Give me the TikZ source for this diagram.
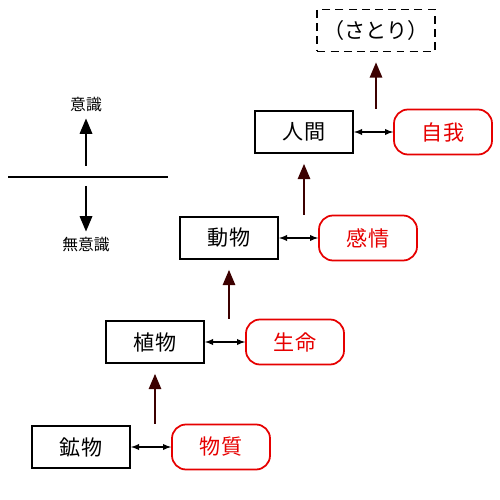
\documentclass[tikz,border=0pt]{standalone}
\usepackage{fontspec}
\newfontfamily\jpfont{Noto Sans CJK JP}
\usepackage{xcolor}
\usetikzlibrary{shapes, arrows, positioning}
\definecolor{myred}{RGB}{230,0,0}
\definecolor{mybrown}{RGB}{60,0,0}

\tikzset{
  kai/.style={draw=black, line width=1.1pt, minimum width=1.96cm, minimum height=0.84cm, font=\jpfont\fontsize{12}{14}\selectfont},
  sei/.style={draw=myred, text=myred, line width=1pt, rounded corners=0.28cm, minimum width=1.96cm, minimum height=0.9cm, font=\jpfont\fontsize{12}{14}\selectfont},
  nobori/.style={-triangle 45, mybrown, line width=1pt},
  sougo/.style={latex-latex, black, line width=0.6pt}
}

\begin{document}
\begin{tikzpicture}[scale=1]
        \useasboundingbox (0,0) rectangle (10,-10);
        % Ishiki
        \node[font=\jpfont\fontsize{9}{11}\selectfont] (ishiki) at (1.72,-2.1) {意識};
        \node[font=\jpfont\fontsize{9}{11}\selectfont] (muishiki) at (1.72,-4.9) {無意識};
        \coordinate (senL) at (0.16,-3.54);
        \coordinate (senR) at (3.36,-3.54);
        \draw[line width=0.7pt] (senL) -- (senR);
        \draw[-triangle 45, line width=1pt] (1.72,-3.32) -- (ishiki);
        \draw[-triangle 45, line width=1pt] (1.72,-3.72) -- (muishiki);
        % Boxes
        \node[kai] (kobutsu) at (1.62,-8.94) {鉱物};
        \node[sei] (busshitsu) at (4.42,-8.94) {物質};
        \node[kai] (shokubutsu) at (3.10,-6.84) {植物};
        \node[sei] (seimei) at (5.90,-6.84) {生命};
        \node[kai] (doubutsu) at (4.58,-4.76) {動物};
        \node[sei] (kanjou) at (7.36,-4.76) {感情};
        \node[kai] (ningen) at (6.08,-2.64) {人間};
        \node[sei] (jiga) at (8.86,-2.64) {自我};
        \node[kai, dash pattern=on 4.5pt off 3pt] (satori) at (7.52,-0.61) {（さとり）};
        % Sougo
        \draw[sougo] (kobutsu) -- (busshitsu);
        \draw[sougo] (shokubutsu) -- (seimei);
        \draw[sougo] (doubutsu) -- (kanjou);
        \draw[sougo] (ningen) -- (jiga);
        % Nobori
        \draw[nobori, shorten >=0.2cm] (busshitsu.north -| shokubutsu.south) -- (shokubutsu.south);
        \draw[nobori, shorten >=0.2cm] (seimei.north -| doubutsu.south) -- (doubutsu.south);
        \draw[nobori, shorten >=0.2cm] (kanjou.north -| ningen.south) -- (ningen.south);
        \draw[nobori, shorten >=0.2cm] (jiga.north -| satori.south) -- (satori.south);
    \end{tikzpicture}
\end{document}
